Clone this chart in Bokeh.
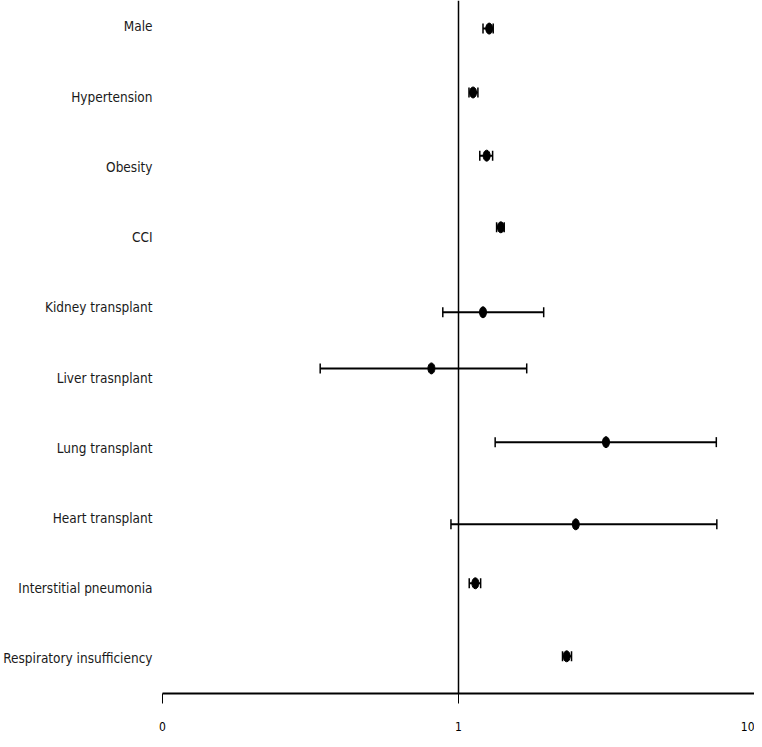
from bokeh.plotting import figure
from bokeh.models import ColumnDataSource, Whisker, TeeHead, Span, FixedTicker, LinearAxis
from bokeh.embed import file_html
from bokeh.resources import INLINE

# Data (odds ratios with 95% CI)
labels = ["Male", "Hypertension", "Obesity", "CCI", "Kidney transplant",
          "Liver trasnplant", "Lung transplant", "Heart transplant",
          "Interstitial pneumonia", "Respiratory insufficiency"]
estimate = [1.27, 1.12, 1.245, 1.39, 1.21, 0.81, 3.15, 2.49, 1.14, 2.32]
ci_low = [1.21, 1.085, 1.18, 1.345, 0.885, 0.341, 1.33, 0.943, 1.087, 2.246]
ci_high = [1.31, 1.163, 1.304, 1.427, 1.94, 1.70, 7.43, 7.46, 1.188, 2.409]
# row of each label (top to bottom) and the plotted height of each point
label_rows = [10, 9, 8, 7, 6, 5, 4, 3, 2, 1]
point_rows = [9.97, 9.06, 8.16, 7.14, 5.93, 5.13, 4.08, 2.91, 2.07, 1.03]
x_ticks = [0.1, 1, 10]
x_tick_labels = ["0", "1", "10"]

FONT = "DejaVu Sans Condensed"

src = ColumnDataSource(dict(y=point_rows, est=estimate, lo=ci_low, hi=ci_high))

p = figure(width=754, height=739, x_axis_type="log", x_range=(0.1, 10),
           y_range=(0.50, 10.37), output_backend="svg", toolbar_location=None,
           y_axis_location=None, x_axis_location="below")
p.min_border_left = 162
p.min_border_right = 0
p.min_border_top = 0
p.min_border_bottom = 46
p.outline_line_color = None
p.xgrid.visible = False
p.ygrid.visible = False
p.background_fill_color = "white"
p.border_fill_color = "white"

# x axis
xa = p.xaxis[0]
xa.ticker = FixedTicker(ticks=x_ticks, minor_ticks=[])
xa.major_label_overrides = {t: l for t, l in zip(x_ticks, x_tick_labels)}
xa.axis_line_width = 2
xa.axis_line_color = "black"
xa.major_tick_in = 0
xa.major_tick_out = 10
xa.major_tick_line_color = "black"
xa.major_tick_line_width = 1
xa.minor_tick_line_color = None
xa.major_label_standoff = 18
xa.major_label_text_font = FONT
xa.major_label_text_font_size = "12px"
xa.major_label_text_color = "black"

# y axis with category labels
ya = LinearAxis(ticker=FixedTicker(ticks=label_rows, minor_ticks=[]))
ya.major_label_overrides = {r: l for r, l in zip(label_rows, labels)}
ya.axis_line_color = None
ya.major_tick_line_color = None
ya.minor_tick_line_color = None
ya.major_tick_out = 0
ya.major_tick_in = 0
ya.major_label_standoff = 10
ya.major_label_text_font = FONT
ya.major_label_text_font_size = "13.5px"
ya.major_label_text_color = "#1a1a1a"
p.add_layout(ya, "left")

# reference line at 1
p.add_layout(Span(location=1, dimension="height", line_color="black", line_width=1.5))

# CI whiskers
w = Whisker(source=src, base="y", lower="lo", upper="hi", dimension="width",
            line_color="black", line_width=2,
            lower_head=TeeHead(size=10, line_color="black", line_width=1.5),
            upper_head=TeeHead(size=10, line_color="black", line_width=1.5))
p.add_layout(w)

# point estimates
p.ellipse(x="est", y="y", width=7, height=11, width_units="screen",
          height_units="screen", source=src, fill_color="black", line_color="black")

open("out.html", "w").write(file_html(p, INLINE))
